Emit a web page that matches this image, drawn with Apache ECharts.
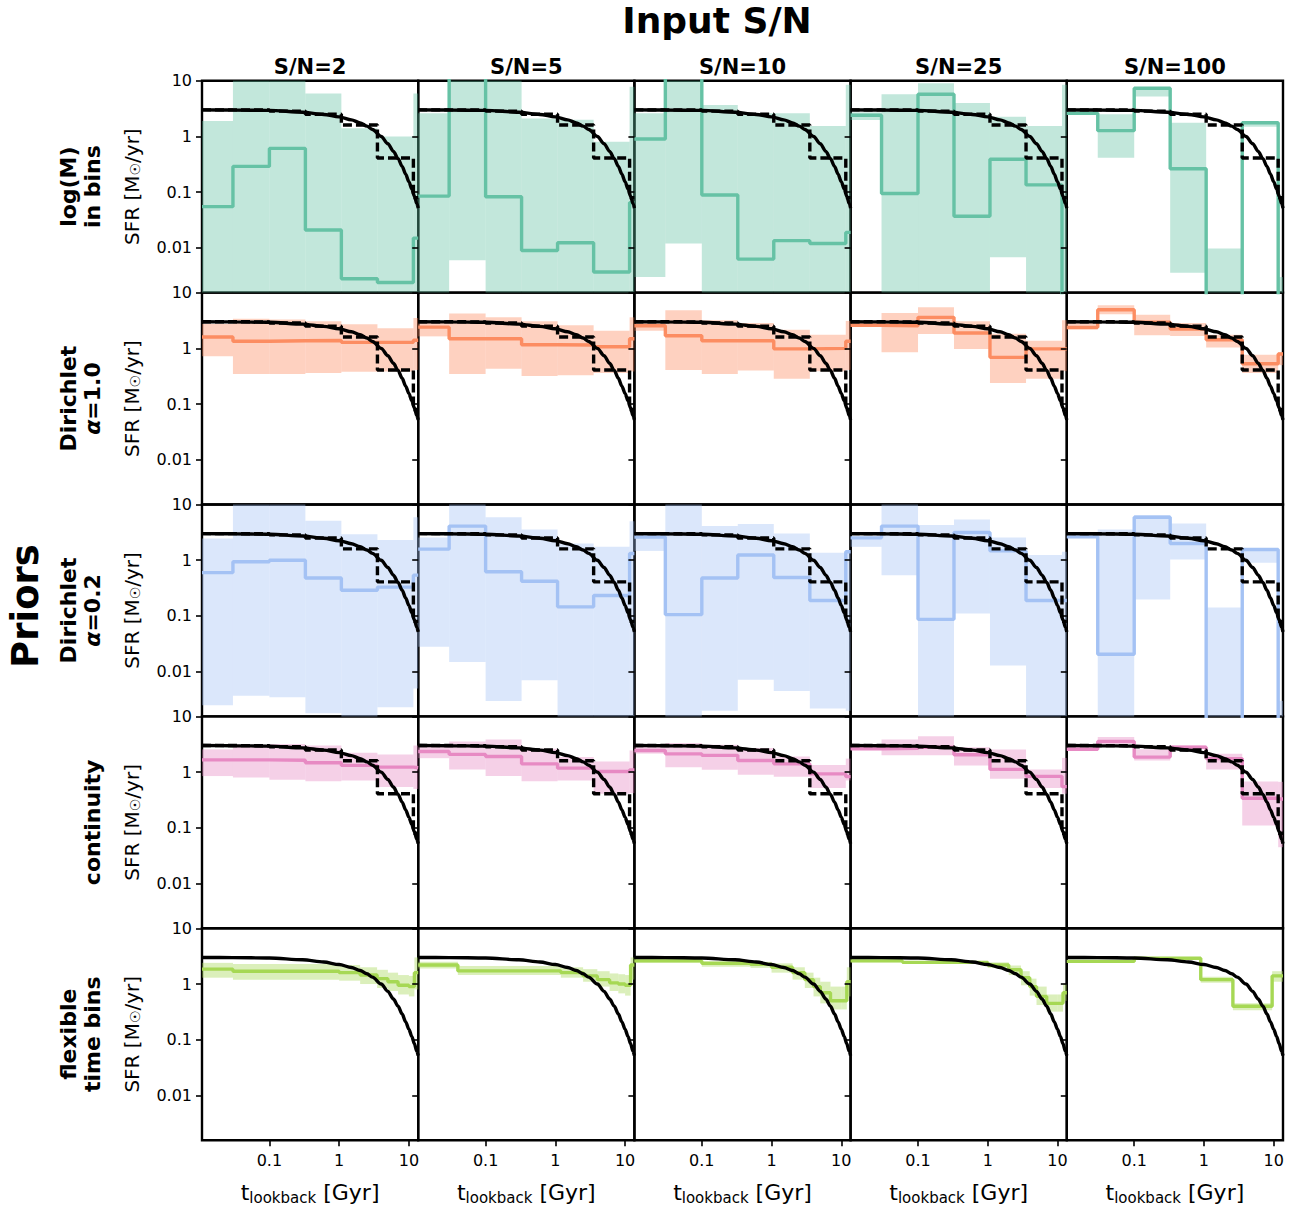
<!DOCTYPE html>
<html><head><meta charset="utf-8">
<script src="https://cdn.jsdelivr.net/npm/echarts@6/dist/echarts.min.js"></script>
<style>html,body{margin:0;padding:0;background:#fff}#c{width:1295px;height:1207px}</style>
</head><body><div id="c"></div>
<script>
// ---------- DATA ----------
const snLabels = ['S/N=2', 'S/N=5', 'S/N=10', 'S/N=25', 'S/N=100'];
const xTickValues = [0.1, 1, 10];
const yTickValues = [0.01, 0.1, 1, 10];
const xRange = [0.0108, 13.6];
const yRange = [0.00158, 10];

const binEdges = [0.0108, 0.03, 0.1, 0.328, 1.076, 3.54, 11.6, 13.6];
const truthT   = [0.0108, 0.03, 0.1, 0.3, 0.6, 1.0, 1.5, 2.0, 2.5, 3.0, 4.0, 5.0, 6.0, 7.0, 8.0, 9.0, 10.0, 11.0, 12.0, 13.0, 13.6];
const truthSFR = [3.0, 2.98, 2.93, 2.72, 2.48, 2.24, 1.98, 1.75, 1.53, 1.33, 1.0, 0.74, 0.54, 0.40, 0.29, 0.21, 0.155, 0.115, 0.085, 0.062, 0.052];
const truthBinned = [3.0, 2.98, 2.85, 2.5, 1.6, 0.41, 0.08];

const logmMed = [
  [0.055, 0.29, 0.61, 0.021, 0.0028, 0.0024, 0.015],
  [0.085, 20, 0.083, 0.009, 0.0124, 0.0037, 0.065],
  [0.9, 20, 0.089, 0.0063, 0.0135, 0.012, 0.019],
  [2.4, 0.095, 5.7, 0.037, 0.39, 0.135, 0.0005],
  [2.6, 1.27, 7.3, 0.263, 0.0005, 1.76, 0.0005]
];
const logmHi = [
  [1.9, 20, 20, 5.9, 1.4, 1.0, 5.9],
  [2.6, 20, 20, 2.1, 2.0, 0.8, 7.8],
  [2.6, 20, 3.66, 2.6, 2.6, 1.54, 8.5],
  [2.7, 5.7, 9.0, 4.0, 2.26, 1.54, 8.5],
  [2.7, 2.5, 7.3, 1.76, 0.0098, 1.8, 0.003]
];
const logmLo = [
  [0.0005, 0.0005, 0.0005, 0.0005, 0.0005, 0.0005, 0.0005],
  [0.0005, 0.006, 0.0005, 0.0005, 0.0005, 0.0005, 0.0005],
  [0.003, 0.012, 0.0005, 0.0005, 0.0005, 0.0005, 0.0005],
  [1.97, 0.0005, 0.0005, 0.0005, 0.0068, 0.0005, 0.0005],
  [2.45, 0.415, 5.2, 0.0036, 0.0005, 1.5, 0.0005]
];

const dir1Med = [
  [1.6, 1.34, 1.37, 1.38, 1.28, 1.28, 1.4],
  [2.4, 1.49, 1.49, 1.16, 1.15, 1.07, 1.49],
  [2.55, 1.68, 1.37, 1.37, 0.98, 1.0, 1.34],
  [2.59, 2.55, 3.6, 1.88, 0.69, 0.98, 0.98],
  [2.38, 4.93, 2.93, 2.22, 1.43, 0.53, 0.79]
];
const dir1Hi = [
  [2.73, 3.4, 3.3, 3.05, 2.7, 2.3, 3.5],
  [3.05, 4.2, 3.6, 3.05, 2.6, 2.07, 3.6],
  [3.1, 4.8, 3.2, 2.85, 2.16, 1.75, 3.1],
  [3.05, 4.3, 5.45, 3.05, 1.83, 1.37, 3.2],
  [3.05, 5.9, 4.0, 2.85, 1.75, 0.77, 0.85]
];
const dir1Lo = [
  [0.72, 0.346, 0.346, 0.36, 0.38, 0.385, 0.41],
  [1.64, 0.346, 0.43, 0.32, 0.33, 0.36, 0.385],
  [2.07, 0.41, 0.346, 0.40, 0.284, 0.39, 0.41],
  [2.45, 0.85, 1.8, 0.97, 0.238, 0.284, 0.39],
  [2.15, 4.1, 1.71, 1.66, 1.04, 0.36, 0.5]
];

const dir02Med = [
  [0.6, 0.94, 1.0, 0.48, 0.29, 0.33, 0.54],
  [1.58, 4.1, 0.62, 0.42, 0.146, 0.233, 1.32],
  [2.6, 0.106, 0.48, 1.24, 0.49, 0.19, 1.42],
  [2.52, 4.1, 0.087, 3.15, 1.47, 0.19, 0.19],
  [2.63, 0.0206, 5.9, 2.0, 0.0005, 1.56, 0.0005]
];
const dir02Hi = [
  [2.46, 20, 20, 5.1, 2.94, 2.3, 5.9],
  [2.57, 20, 5.9, 3.57, 2.0, 1.74, 5.0],
  [2.9, 20, 4.1, 4.45, 3.03, 1.36, 1.5],
  [2.65, 20, 4.3, 5.4, 2.57, 1.24, 1.42],
  [2.65, 3.57, 6.45, 4.58, 0.142, 1.6, 0.003]
];
const dir02Lo = [
  [0.0025, 0.0037, 0.0035, 0.0018, 0.0005, 0.0023, 0.005],
  [0.028, 0.015, 0.003, 0.007, 0.0005, 0.0005, 0.0005],
  [1.47, 0.0005, 0.002, 0.0072, 0.0045, 0.0022, 0.002],
  [1.74, 0.54, 0.0005, 0.111, 0.013, 0.0005, 0.0005],
  [2.5, 0.0005, 0.198, 1.03, 0.0005, 0.9, 0.0005]
];

const contMed = [
  [1.66, 1.66, 1.63, 1.47, 1.32, 1.23, 1.2],
  [2.35, 2.08, 1.91, 1.41, 1.18, 1.03, 1.1],
  [2.45, 2.13, 2.0, 1.62, 1.41, 0.93, 0.83],
  [2.62, 2.68, 2.8, 2.05, 1.12, 0.84, 0.55],
  [2.57, 3.56, 1.86, 2.8, 1.75, 0.34, 0.33]
];
const contHi = [
  [2.56, 3.0, 3.2, 3.0, 2.22, 2.07, 3.0],
  [3.0, 3.56, 3.86, 2.62, 1.86, 1.56, 2.45],
  [3.2, 3.35, 3.1, 2.7, 1.9, 1.35, 1.75],
  [3.0, 3.86, 4.4, 2.8, 2.55, 1.12, 1.8],
  [3.0, 4.25, 2.57, 3.0, 2.13, 0.68, 0.67]
];
const contLo = [
  [0.85, 0.8, 0.73, 0.69, 0.71, 0.54, 0.5],
  [1.78, 1.12, 0.85, 0.69, 0.71, 0.41, 0.42],
  [2.15, 1.23, 1.1, 0.895, 0.83, 0.52, 0.71],
  [2.5, 2.0, 2.0, 1.32, 0.76, 0.52, 0.41],
  [2.5, 3.2, 1.62, 2.7, 1.12, 0.11, 0.045]
];

const flexEdges = [
  [0.0108, 0.03, 1.0, 2, 3.5, 5, 7, 10, 12, 13.6],
  [0.0108, 0.04, 1.2, 2.5, 4, 6, 8, 10, 12, 13.6],
  [0.0108, 0.1, 0.5, 1.0, 2, 3, 4, 5, 7, 10, 12, 13.6],
  [0.0108, 0.06, 1.0, 2, 3, 4, 5, 7, 10, 12, 13.6],
  [0.0108, 0.1, 0.9, 2.6, 9.5, 13.6]
];
const flexMed = [
  [1.85, 1.7, 1.6, 1.45, 1.25, 1.1, 0.95, 0.9, 1.6],
  [2.2, 1.72, 1.6, 1.4, 1.2, 1.05, 1.0, 0.95, 2.2],
  [2.6, 2.35, 2.25, 2.0, 1.6, 1.2, 0.9, 0.7, 0.5, 0.5, 1.1],
  [2.6, 2.45, 2.2, 1.8, 1.3, 0.9, 0.6, 0.45, 0.45, 0.7],
  [2.55, 2.9, 1.2, 0.4, 1.4]
];
const flexHi = [
  [2.4, 2.3, 2.2, 2.0, 1.8, 1.6, 1.45, 1.4, 3.0],
  [2.5, 2.1, 2.0, 1.85, 1.7, 1.55, 1.5, 1.45, 3.0],
  [2.8, 2.6, 2.5, 2.35, 2.0, 1.6, 1.3, 1.1, 0.9, 0.9, 2.0],
  [2.75, 2.6, 2.45, 2.15, 1.7, 1.25, 0.9, 0.65, 0.65, 1.0],
  [2.7, 3.0, 1.35, 0.45, 1.7]
];
const flexLo = [
  [1.3, 1.2, 1.15, 1.0, 0.85, 0.75, 0.65, 0.6, 0.8],
  [1.9, 1.45, 1.3, 1.1, 0.9, 0.75, 0.68, 0.62, 1.2],
  [2.4, 2.05, 1.95, 1.6, 1.2, 0.85, 0.6, 0.45, 0.35, 0.35, 0.6],
  [2.45, 2.3, 1.95, 1.45, 0.95, 0.62, 0.42, 0.32, 0.32, 0.5],
  [2.4, 2.8, 1.05, 0.34, 1.1]
];

// ---------- BUILD ----------
const FONT = '"DejaVu Sans", "Liberation Sans", sans-serif';
const rows = [
  {med: logmMed, hi: logmHi, lo: logmLo, line: '#66c2a5', band: 'rgba(102,194,165,0.4)', label: '{b|log(M)}\n{b|in bins}'},
  {med: dir1Med, hi: dir1Hi, lo: dir1Lo, line: '#fc8d62', band: 'rgba(252,141,98,0.4)', label: '{b|Dirichlet}\n{i|α}{b|=1.0}'},
  {med: dir02Med, hi: dir02Hi, lo: dir02Lo, line: '#a4c2f4', band: 'rgba(164,194,244,0.4)', label: '{b|Dirichlet}\n{i|α}{b|=0.2}'},
  {med: contMed, hi: contHi, lo: contLo, line: '#e78ac3', band: 'rgba(231,138,195,0.4)', label: '{b|continuity}'},
  {med: flexMed, hi: flexHi, lo: flexLo, line: '#a6d854', band: 'rgba(166,216,84,0.4)', label: '{b|flexible}\n{b|time bins}', flex: true}
];

const L0 = 202, T0 = 80.7, PW = 216.2, PH = 211.9;
const grids = [], xAxes = [], yAxes = [], series = [];

function powLabel(v) {
  const l = Math.log10(v);
  const e = Math.round(l);
  if (Math.abs(l - e) > 1e-6) return '';
  return e >= 0 ? String(Math.pow(10, e)) : Math.pow(10, e).toFixed(-e);
}

function bandRender(params, api) {
  const x0 = api.value(0), x1 = api.value(1), lo = api.value(2), hi = api.value(3);
  const p0 = api.coord([x0, hi]);
  const p1 = api.coord([x1, lo]);
  const cs = params.coordSys;
  const r = echarts.graphic.clipRectByRect(
    {x: p0[0], y: p0[1], width: p1[0] - p0[0], height: p1[1] - p0[1]},
    {x: cs.x, y: cs.y, width: cs.width, height: cs.height});
  if (!r) return null;
  return {type: 'rect', shape: r, style: {fill: api.visual('color')}};
}

function stepData(edges, vals) {
  return edges.map((e, i) => [e, vals[Math.min(i, vals.length - 1)]]);
}

for (let r = 0; r < 5; r++) {
  for (let c = 0; c < 5; c++) {
    const idx = r * 5 + c;
    const row = rows[r];
    const isBottom = r === 4, isLeft = c === 0;
    grids.push({left: L0 + c * PW, top: T0 + r * PH, width: PW, height: PH,
      show: true, borderColor: '#000', borderWidth: 2.4, backgroundColor: 'transparent'});
    xAxes.push({
      type: 'log', logBase: 10, gridIndex: idx, min: xRange[0], max: xRange[1], z: 10,
      axisLine: {show: false}, splitLine: {show: false},
      axisTick: {show: isBottom, length: 6, lineStyle: {color: '#000', width: 1.6}, customValues: xTickValues},
      axisLabel: {show: isBottom, fontFamily: FONT, fontSize: 16, color: '#000', margin: 12, formatter: powLabel, customValues: xTickValues},
      name: isBottom ? '{a|t}{s|lookback}{a| [Gyr]}' : '', nameLocation: 'middle', nameGap: 40,
      nameTextStyle: {rich: {a: {fontFamily: FONT, fontSize: 22, color: '#000'}, s: {fontFamily: FONT, fontSize: 15, color: '#000', padding: [10, 0, 0, 0]}}}
    });
    yAxes.push({
      type: 'log', logBase: 10, gridIndex: idx, min: yRange[0], max: yRange[1], z: 10,
      axisLine: {show: false}, splitLine: {show: false},
      axisTick: {show: true, length: 6, lineStyle: {color: '#000', width: 1.6}, customValues: yTickValues},
      axisLabel: {show: isLeft, fontFamily: FONT, fontSize: 16, color: '#000', margin: 10, formatter: powLabel, customValues: yTickValues},
      name: isLeft ? '{a|SFR [M}{s|☉}{a|/yr]}' : '', nameLocation: 'middle', nameGap: 60, nameRotate: 90,
      nameTextStyle: {rich: {a: {fontFamily: FONT, fontSize: 20, color: '#000'}, s: {fontFamily: FONT, fontSize: 14, color: '#000', padding: [7, 0, 0, 0]}}}
    });
    const edges = row.flex ? flexEdges[c] : binEdges;
    const med = row.med[c], hi = row.hi[c], lo = row.lo[c];
    const bandData = med.map((m, i) => [edges[i], edges[i + 1], lo[i], hi[i]]);
    series.push({type: 'custom', xAxisIndex: idx, yAxisIndex: idx, renderItem: bandRender,
      itemStyle: {color: row.band}, encode: {x: [0, 1], y: [2, 3]}, data: bandData, silent: true, z: 2});
    series.push({type: 'line', xAxisIndex: idx, yAxisIndex: idx, step: 'end', showSymbol: false, clip: true,
      lineStyle: {color: row.line, width: 3.4}, data: stepData(edges, med), silent: true, z: 3});
    if (!row.flex) {
      series.push({type: 'line', xAxisIndex: idx, yAxisIndex: idx, step: 'end', showSymbol: false, clip: true,
        lineStyle: {color: '#000', width: 3.4, type: [9, 4]}, data: stepData(binEdges, truthBinned), silent: true, z: 4});
    }
    series.push({type: 'line', xAxisIndex: idx, yAxisIndex: idx, smooth: 0.3, smoothMonotone: 'x', showSymbol: false, clip: true,
      lineStyle: {color: '#000', width: 3.4}, data: truthT.map((t, i) => [t, truthSFR[i]]), silent: true, z: 5});
  }
}

const graphics = [];
graphics.push({type: 'text', x: 717, y: 20, style: {text: 'Input S/N', font: 'bold 36px ' + FONT, fill: '#000', textAlign: 'center', textVerticalAlign: 'middle'}});
snLabels.forEach((s, c) => graphics.push({type: 'text', x: L0 + c * PW + PW / 2, y: 67,
  style: {text: s, font: 'bold 21px ' + FONT, fill: '#000', textAlign: 'center', textVerticalAlign: 'middle'}}));
graphics.push({type: 'text', x: 25, y: 606, rotation: Math.PI / 2, style: {text: 'Priors', font: 'bold 37px ' + FONT, fill: '#000', textAlign: 'center', textVerticalAlign: 'middle'}});
rows.forEach((row, r) => graphics.push({type: 'text', x: 104, y: T0 + r * PH + PH / 2, rotation: Math.PI / 2,
  style: {text: row.label, textAlign: 'center', textVerticalAlign: 'bottom',
    rich: {b: {font: 'bold 22px ' + FONT, fill: '#000', lineHeight: 24}, i: {font: 'italic bold 22px ' + FONT, fill: '#000', lineHeight: 24}}}}));

const chart = echarts.init(document.getElementById('c'), null, {renderer: 'svg', width: 1295, height: 1207});
chart.setOption({
  animation: false,
  backgroundColor: '#fff',
  grid: grids, xAxis: xAxes, yAxis: yAxes, series: series, graphic: graphics
});
</script></body></html>
